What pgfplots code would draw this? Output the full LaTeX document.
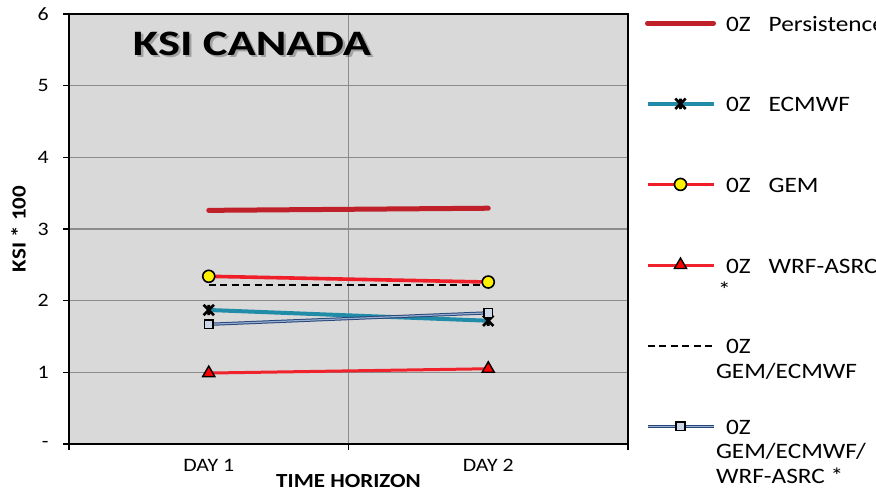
\documentclass[border=0pt]{standalone}
\usepackage{pgfplots}
\pgfplotsset{compat=1.18}
\usepackage{fontspec}
\setmainfont{Carlito}[FakeStretch=1.15]
\newfontfamily\titlefont{Carlito}[FakeStretch=1.3]

\definecolor{plotbg}{RGB}{217,217,217}
\definecolor{gridgray}{RGB}{140,140,140}
\definecolor{persist}{RGB}{192,32,42}
\definecolor{ecmwf}{RGB}{33,140,168}
\definecolor{gemred}{RGB}{240,30,40}
\definecolor{wrfred}{RGB}{240,35,45}
\definecolor{ensdark}{RGB}{40,70,120}
\definecolor{enslight}{RGB}{150,175,210}

% star marker: a cross with a vertical stroke through it
\pgfdeclareplotmark{xbar}{%
  \pgfpathmoveto{\pgfqpoint{-\pgfplotmarksize}{-\pgfplotmarksize}}%
  \pgfpathlineto{\pgfqpoint{\pgfplotmarksize}{\pgfplotmarksize}}%
  \pgfpathmoveto{\pgfqpoint{-\pgfplotmarksize}{\pgfplotmarksize}}%
  \pgfpathlineto{\pgfqpoint{\pgfplotmarksize}{-\pgfplotmarksize}}%
  \pgfpathmoveto{\pgfqpoint{0pt}{-\pgfplotmarksize}}%
  \pgfpathlineto{\pgfqpoint{0pt}{\pgfplotmarksize}}%
  \pgfusepathqstroke}

\newcommand{\lfont}{\fontsize{11}{12.25}\selectfont}
% three-line legend text block, aligned on its first line
\newcommand{\lentry}[3]{\begin{minipage}[t]{90pt}\lfont\raggedright
  \strut#1\par\strut#2\par\strut#3\end{minipage}}

\pgfplotsset{
  std legend/.style={legend image code/.code={%
    \draw[mark repeat=2,mark phase=2,##1] plot coordinates {(0pt,0pt) (16.5pt,0pt) (33pt,0pt)};}},
  ens legend/.style={legend image code/.code={%
    \draw[ensdark, line width=1.6pt] (0pt,0pt) -- (33pt,0pt);
    \draw[mark repeat=2,mark phase=2,##1] plot coordinates {(0pt,0pt) (16.5pt,0pt) (33pt,0pt)};}},
}

\begin{document}
\begin{tikzpicture}
\begin{axis}[
  at={(34.5pt,24pt)}, anchor=south west,
  width=279.5pt, height=215pt, scale only axis,
  xmin=-0.5, xmax=1.5, ymin=0, ymax=6,
  xtick={0,1}, xticklabels={DAY 1,DAY 2},
  major x tick style={draw=none},
  minor xtick={-0.5,0.5,1.5},
  xminorgrids,
  minor x grid style={gridgray, line width=0.6pt},
  ytick={0,1,2,3,4,5,6}, yticklabels={-,1,2,3,4,5,6},
  ymajorgrids,
  major y grid style={gridgray, line width=0.6pt},
  tick align=outside, tick pos=left,
  major tick length=3pt, minor tick length=3pt,
  tick style={black, line width=0.6pt},
  axis line style={black, line width=0.8pt},
  axis background/.style={fill=plotbg},
  /pgf/number format/assume math mode=true,
  ticklabel style={font=\fontsize{9.5}{11}\selectfont},
  yticklabel style={anchor=east, inner sep=0pt, xshift=-7pt},
  xticklabel style={anchor=north, inner sep=0pt, yshift=-4.5pt},
  label style={font=\fontsize{10}{12}\selectfont\bfseries},
  xlabel={TIME HORIZON},
  ylabel={KSI * 100},
  xlabel style={at={(axis description cs:0.5,-0.1023)}, anchor=base, inner sep=0pt},
  ylabel style={at={(axis description cs:-0.0903,0.5)}, anchor=center, inner sep=0pt},
  std legend,
  legend style={
    at={(axis description cs:1.0304,1.0)}, anchor=north west,
    draw=none, fill=none, inner sep=0pt, outer sep=0pt,
    row sep=3.55pt, column sep=0pt, font=\lfont,
    nodes={anchor=base west, inner sep=0pt, yshift=-4pt,
           text height=8.6pt, text depth=28.15pt}},
]
% persistence forecast
\addplot[persist, line width=2.5pt, line cap=round] coordinates {(0,3.26) (1,3.29)};
\addlegendentry{\lentry{\hspace*{5pt}0Z\hspace{9pt}Persistence}{}{}}

% ECMWF
\addplot[ecmwf, line width=2pt, mark=xbar, mark size=2.6pt,
  mark options={black, line width=1.3pt}] coordinates {(0,1.87) (1,1.72)};
\addlegendentry{\lentry{\hspace*{5pt}0Z\hspace{9pt}ECMWF}{}{}}

% GEM
\addplot[gemred, line width=1.8pt, mark=*, mark size=3pt,
  mark options={draw=black, fill=yellow, line width=0.8pt}] coordinates {(0,2.34) (1,2.26)};
\addlegendentry{\lentry{\hspace*{5pt}0Z\hspace{9pt}GEM}{}{}}

% WRF-ASRC
\addplot[wrfred, line width=1.5pt, mark=triangle*, mark size=3.5pt,
  mark options={draw=black, fill=red, line width=0.7pt}] coordinates {(0,0.99) (1,1.05)};
\addlegendentry{\lentry{\hspace*{5pt}0Z\hspace{9pt}WRF-ASRC}{\hspace*{1pt}*}{}}

% GEM/ECMWF blend
\addplot[black, line width=1.1pt, dash pattern=on 3.5pt off 2.25pt] coordinates {(0,2.22) (1,2.22)};
\addlegendentry{\lentry{\hspace*{5pt}0Z}{GEM/ECMWF}{}}

% GEM/ECMWF/WRF-ASRC blend, drawn as a two-tone line
\addplot[ensdark, line width=1.6pt, forget plot] coordinates {(0,1.67) (1,1.83)};
\addplot[enslight, line width=0.6pt, mark=square*, mark size=2.2pt,
  mark options={draw=black, fill=enslight!50!white, line width=0.7pt}, ens legend]
  coordinates {(0,1.67) (1,1.83)};
\addlegendentry{\lentry{\hspace*{5pt}0Z}{GEM/ECMWF/}{WRF-ASRC *}}
\end{axis}

% chart title with a soft shadow
\node[font=\titlefont\fontsize{17.9}{20}\selectfont\bfseries, text=black, opacity=0.25, inner sep=0pt]
  at (127.2pt,222.9pt) {KSI CANADA};
\node[font=\titlefont\fontsize{17.9}{20}\selectfont\bfseries, inner sep=0pt]
  at (126pt,224.25pt) {KSI CANADA};

\pgfresetboundingbox
\useasboundingbox (0pt,0pt) rectangle (438pt,246pt);
\end{tikzpicture}
\end{document}
